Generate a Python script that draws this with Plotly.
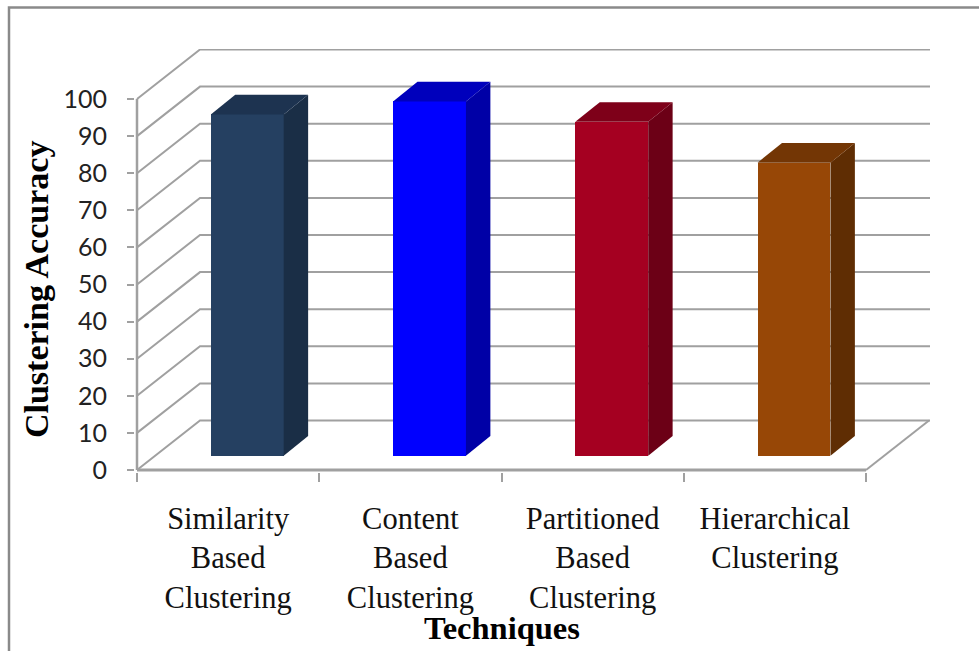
import plotly.graph_objects as go

categories = ["Similarity<br>Based<br>Clustering", "Content<br>Based<br>Clustering",
              "Partitioned<br>Based<br>Clustering", "Hierarchical<br>Clustering"]
accuracy = [92, 95.5, 90, 79]
y_ticks = [0, 10, 20, 30, 40, 50, 60, 70, 80, 90, 100]
front_colors = ["#254061", "#0000FF", "#A50021", "#974706"]
side_colors = ["#1A2E46", "#0000A6", "#6C0016", "#5F2D03"]
top_colors = ["#1D3350", "#0000BC", "#7E0019", "#733605"]

GRID = "#A0A0A0"
X_UNIT, Y_UNIT = 182.25, 3.71   # pixels per data unit
PAD = 2                         # pixels of room so the axis lines are not clipped
X_MAX = 793 / X_UNIT
Y_MAX = 421 / Y_UNIT
WALL_DX, WALL_DY = 0.3457, 13.34
BAR_DX, BAR_DY = 0.134, 5.3
BASE_DX, BASE_DY = 0.105, 3.85
BAR_W = 0.4

n = len(categories)
centers = [i + 0.5 for i in range(n)]
fig = go.Figure()


def line(xs, ys, width=2):
    fig.add_trace(go.Scatter(x=xs, y=ys, mode="lines", line=dict(color=GRID, width=width),
                             hoverinfo="skip", showlegend=False, cliponaxis=False))


for t in y_ticks:
    line([0, WALL_DX, X_MAX], [t, t + WALL_DY, t + WALL_DY])
line([0, n], [0, 0], 3)
line([n, n + WALL_DX], [0, WALL_DY])

fig.add_trace(go.Bar(
    x=[c + BASE_DX for c in centers], y=accuracy, base=[BASE_DY] * n, width=BAR_W,
    marker=dict(color=front_colors, line=dict(width=0)), showlegend=False, zorder=1,
))

for c, v, sc, tc in zip(centers, accuracy, side_colors, top_colors):
    x0 = c + BASE_DX - BAR_W / 2
    x1 = c + BASE_DX + BAR_W / 2
    top = v + BASE_DY
    fig.add_trace(go.Scatter(
        x=[x1, x1 + BAR_DX, x1 + BAR_DX, x1, x1], y=[BASE_DY, BASE_DY + BAR_DY, top + BAR_DY, top, BASE_DY],
        fill="toself", fillcolor=sc, mode="lines", line=dict(width=0, color=sc),
        hoverinfo="skip", showlegend=False, cliponaxis=False, zorder=2))
    fig.add_trace(go.Scatter(
        x=[x0, x1, x1 + BAR_DX, x0 + BAR_DX, x0], y=[top, top, top + BAR_DY, top + BAR_DY, top],
        fill="toself", fillcolor=tc, mode="lines", line=dict(width=0, color=tc),
        hoverinfo="skip", showlegend=False, cliponaxis=False, zorder=2))

plot_w = 793 + PAD
plot_h = 421 + PAD
fig.update_layout(
    width=979, height=651, autosize=False,
    margin=dict(l=137 - PAD, r=49, t=49, b=181 - PAD),
    paper_bgcolor="white", plot_bgcolor="white", showlegend=False, bargap=0,
    xaxis=dict(range=[-PAD / X_UNIT, X_MAX], showgrid=False, zeroline=False, showline=False,
               tickmode="array", tickvals=centers, ticktext=categories, ticks="",
               tickangle=0, ticklabelstandoff=25,
               tickfont=dict(family="Liberation Serif", size=30.5, color="#111111"),
               minor=dict(tickmode="array", tickvals=list(range(n + 1)), ticks="outside",
                          ticklen=9, tickwidth=2, tickcolor=GRID, showgrid=False)),
    yaxis=dict(range=[-PAD / Y_UNIT, Y_MAX], showgrid=False, zeroline=False, showline=False,
               tickmode="array", tickvals=y_ticks, ticks="outside", ticklen=7, tickwidth=2,
               tickcolor=GRID, ticklabelstandoff=15,
               tickfont=dict(family="Lato", size=25, color="#222222")),
    annotations=[
        dict(text="<b>Techniques</b>", xref="x", yref="paper", x=2.005, y=(PAD + 470 - 628) / plot_h,
             showarrow=False, xanchor="center", yanchor="middle",
             font=dict(family="Liberation Serif", size=32.5, color="#000000")),
        dict(text="<b>Clustering Accuracy</b>", xref="paper", yref="y", x=(PAD - 101) / plot_w, y=48.5,
             textangle=-90, showarrow=False, xanchor="center", yanchor="middle",
             font=dict(family="Liberation Serif", size=34, color="#000000")),
    ],
    shapes=[
        dict(type="path", xref="paper", yref="paper", layer="below",
             path=(f"M {(PAD - 128) / plot_w} {(PAD + 470 - 660) / plot_h} "
                   f"L {(PAD - 128) / plot_w} {(PAD + 462.5) / plot_h} "
                   f"L 1.07 {(PAD + 462.5) / plot_h}"),
             line=dict(color="#8A8A8A", width=2.5)),
        dict(type="line", xref="x", yref="y", layer="above", x0=0, x1=0,
             y0=y_ticks[0], y1=y_ticks[-1], line=dict(color=GRID, width=2.5)),
    ],
)

fig.write_html("out.html", post_script="document.body.style.margin='0';",
               config={"displayModeBar": False})
